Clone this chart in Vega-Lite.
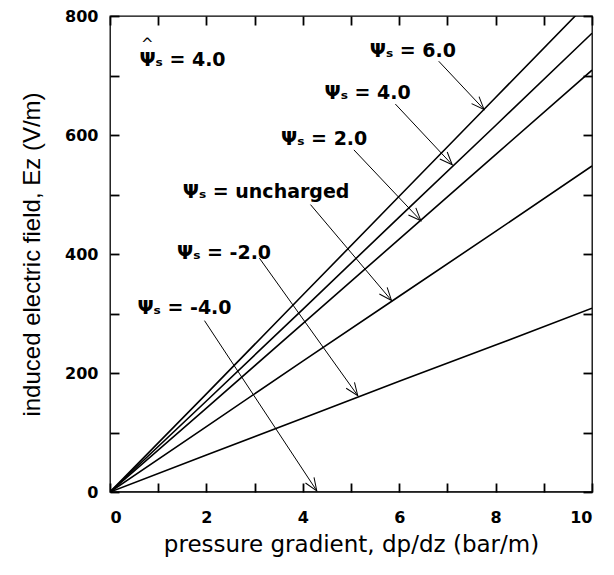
{
  "$schema": "https://vega.github.io/schema/vega-lite/v6.json",
  "width": 482,
  "height": 476,
  "autosize": {"type": "none"},
  "padding": {"left": 110, "top": 16, "right": 22, "bottom": 83},
  "background": "white",
  "config": {
    "view": {"stroke": "black", "strokeWidth": 1.3},
    "font": "DejaVu Sans",
    "axis": {
      "domain": false,
      "grid": false,
      "ticks": true,
      "offset": -9,
      "tickColor": "black",
      "tickOpacity": 1,
      "tickSize": 9,
      "tickWidth": 1.8,
      "labelColor": "black",
      "labelFont": "DejaVu Sans",
      "labelFontSize": 16,
      "labelFontWeight": "bold",
      "titleColor": "black",
      "titleFont": "DejaVu Sans",
      "titleFontSize": 23,
      "titleFontWeight": "normal"
    }
  },
  "datasets": {
    "curves": [
      {"series": "6.0", "p": 0, "E": 0}, {"series": "6.0", "p": 2, "E": 165}, {"series": "6.0", "p": 4, "E": 331}, {"series": "6.0", "p": 6, "E": 497}, {"series": "6.0", "p": 8, "E": 663}, {"series": "6.0", "p": 10, "E": 829},
      {"series": "4.0", "p": 0, "E": 0}, {"series": "4.0", "p": 2, "E": 153}, {"series": "4.0", "p": 4, "E": 307}, {"series": "4.0", "p": 6, "E": 462}, {"series": "4.0", "p": 8, "E": 616}, {"series": "4.0", "p": 10, "E": 771},
      {"series": "2.0", "p": 0, "E": 0}, {"series": "2.0", "p": 2, "E": 141}, {"series": "2.0", "p": 4, "E": 283}, {"series": "2.0", "p": 6, "E": 425}, {"series": "2.0", "p": 8, "E": 567}, {"series": "2.0", "p": 10, "E": 709},
      {"series": "uncharged", "p": 0, "E": 0}, {"series": "uncharged", "p": 2, "E": 110}, {"series": "uncharged", "p": 4, "E": 220}, {"series": "uncharged", "p": 6, "E": 329}, {"series": "uncharged", "p": 8, "E": 438}, {"series": "uncharged", "p": 10, "E": 548},
      {"series": "-2.0", "p": 0, "E": 0}, {"series": "-2.0", "p": 2, "E": 62}, {"series": "-2.0", "p": 4, "E": 124}, {"series": "-2.0", "p": 6, "E": 186}, {"series": "-2.0", "p": 8, "E": 247}, {"series": "-2.0", "p": 10, "E": 309},
      {"series": "-4.0", "p": 0, "E": 0}, {"series": "-4.0", "p": 10, "E": 0}
    ],
    "notes": [
      {"label": "Ψₛ = 6.0", "tx": 5.39, "ty": 742, "ax": 6.82, "ay": 724, "hx": 7.76, "hy": 643},
      {"label": "Ψₛ = 4.0", "tx": 4.45, "ty": 671, "ax": 5.92, "ay": 652, "hx": 7.10, "hy": 550},
      {"label": "Ψₛ = 2.0", "tx": 3.55, "ty": 593, "ax": 5.06, "ay": 575, "hx": 6.45, "hy": 456},
      {"label": "Ψₛ = uncharged", "tx": 1.51, "ty": 504, "ax": 4.16, "ay": 483, "hx": 5.84, "hy": 322},
      {"label": "Ψₛ = -2.0", "tx": 1.39, "ty": 402, "ax": 3.10, "ay": 393, "hx": 5.14, "hy": 162},
      {"label": "Ψₛ = -4.0", "tx": 0.57, "ty": 310, "ax": 1.96, "ay": 288, "hx": 4.29, "hy": 2}
    ],
    "tags": [
      {"label": "Ψₛ = 4.0", "hat": "^", "tx": 0.61, "ty": 726}
    ]
  },
  "layer": [
    {
      "data": {"name": "curves"},
      "mark": {"type": "line", "color": "black", "strokeWidth": 1.6, "clip": true},
      "encoding": {
        "x": {
          "field": "p", "type": "quantitative",
          "scale": {"domain": [0, 10], "nice": false, "zero": false},
          "axis": {
            "orient": "bottom",
            "values": [0, 1, 2, 3, 4, 5, 6, 7, 8, 9, 10],
            "labelExpr": "datum.value % 2 == 0 ? datum.label : ''",
            "labelPadding": 17,
            "title": "pressure gradient, dp/dz (bar/m)",
            "titlePadding": 8
          }
        },
        "y": {
          "field": "E", "type": "quantitative",
          "scale": {"domain": [0, 800], "nice": false},
          "axis": {
            "orient": "left",
            "values": [0, 100, 200, 300, 400, 500, 600, 700, 800],
            "labelExpr": "datum.value % 200 == 0 ? datum.label : ''",
            "labelPadding": 12,
            "title": "induced electric field, Ez (V/m)",
            "titleFont": "Liberation Sans",
            "titleFontSize": 24,
            "titlePadding": 20
          }
        },
        "detail": {"field": "series", "type": "nominal"}
      }
    },
    {
      "data": {"name": "notes"},
      "mark": {"type": "rule", "color": "black", "strokeWidth": 1},
      "encoding": {
        "x": {
          "field": "ax", "type": "quantitative",
          "axis": {
            "orient": "top",
            "values": [0, 1, 2, 3, 4, 5, 6, 7, 8, 9, 10],
            "labels": false,
            "title": null
          }
        },
        "y": {
          "field": "ay", "type": "quantitative",
          "axis": {
            "orient": "right",
            "values": [0, 100, 200, 300, 400, 500, 600, 700, 800],
            "labels": false,
            "title": null
          }
        },
        "x2": {"field": "hx"},
        "y2": {"field": "hy"}
      }
    },
    {
      "data": {"name": "notes"},
      "transform": [
        {"calculate": "atan2(-(datum.hy - datum.ay) * 476 / 800, (datum.hx - datum.ax) * 482 / 10) * 180 / PI", "as": "ang"}
      ],
      "mark": {"type": "point", "shape": "M -1 -0.4 L 0 0 L -1 0.4", "filled": false, "stroke": "black", "strokeWidth": 1, "size": 650, "opacity": 1},
      "encoding": {
        "x": {"field": "hx", "type": "quantitative", "axis": null},
        "y": {"field": "hy", "type": "quantitative", "axis": null},
        "angle": {"field": "ang", "type": "quantitative", "scale": null}
      }
    },
    {
      "data": {"name": "notes"},
      "mark": {"type": "text", "align": "left", "baseline": "middle", "fontSize": 19, "fontWeight": "bold", "font": "DejaVu Sans", "color": "black"},
      "encoding": {
        "x": {"field": "tx", "type": "quantitative", "axis": null},
        "y": {"field": "ty", "type": "quantitative", "axis": null},
        "text": {"field": "label"}
      }
    },
    {
      "data": {"name": "tags"},
      "mark": {"type": "text", "align": "left", "baseline": "middle", "fontSize": 19, "fontWeight": "bold", "font": "DejaVu Sans", "color": "black"},
      "encoding": {
        "x": {"field": "tx", "type": "quantitative", "axis": null},
        "y": {"field": "ty", "type": "quantitative", "axis": null},
        "text": {"field": "label"}
      }
    },
    {
      "data": {"name": "tags"},
      "mark": {"type": "text", "align": "center", "baseline": "middle", "fontSize": 15, "fontWeight": "normal", "font": "DejaVu Sans", "color": "black", "dx": 8, "dy": -16},
      "encoding": {
        "x": {"field": "tx", "type": "quantitative", "axis": null},
        "y": {"field": "ty", "type": "quantitative", "axis": null},
        "text": {"field": "hat"}
      }
    }
  ],
  "resolve": {"axis": {"x": "independent", "y": "independent"}}
}
